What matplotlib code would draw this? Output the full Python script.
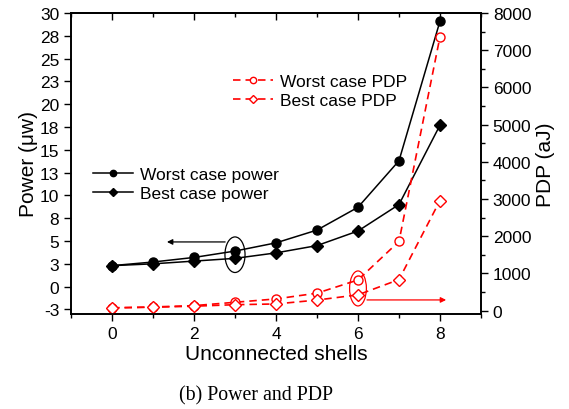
import matplotlib
matplotlib.use("Agg")
import matplotlib.pyplot as plt
from matplotlib.patches import Ellipse
from matplotlib.ticker import MultipleLocator

plt.rcParams['font.family'] = ['Liberation Sans', 'DejaVu Sans']

shells = [0, 1, 2, 3, 4, 5, 6, 7, 8]
worst_power = [2.3, 2.7, 3.2, 3.9, 4.8, 6.2, 8.7, 13.8, 29.1]
best_power = [2.3, 2.5, 2.8, 3.1, 3.7, 4.5, 6.1, 9.0, 17.7]
worst_pdp = [75, 100, 135, 225, 315, 470, 825, 1860, 7360]
best_pdp = [75, 92, 120, 160, 180, 285, 425, 835, 2960]

left_ticks = [-2.5, 0, 2.5, 5, 7.5, 10, 12.5, 15, 17.5, 20, 22.5, 25, 27.5, 30]
left_labels = ['-3', '0', '3', '5', '8', '10', '13', '15', '18', '20', '23', '25', '28', '30']
right_ticks = [0, 1000, 2000, 3000, 4000, 5000, 6000, 7000, 8000]
x_ticks = [0, 2, 4, 6, 8]

red = '#ff0000'

fig = plt.figure(figsize=(5.69, 4.10), dpi=100)
ax1 = fig.add_axes([0.1248, 0.2317, 0.7205, 0.7342])
ax2 = ax1.twinx()

l1, = ax1.plot(shells, worst_power, '-o', color='black', lw=1.1, ms=6.5, label='Worst case power')
l2, = ax1.plot(shells, best_power, '-D', color='black', lw=1.1, ms=6, label='Best case power')

l3, = ax2.plot(shells, worst_pdp, '--o', color=red, lw=1.2, ms=6.5, mfc='white', mew=1.0,
               dashes=(4.5, 3), label='Worst case PDP')
l4, = ax2.plot(shells, best_pdp, '--D', color=red, lw=1.2, ms=6, mfc='white', mew=1.0,
               dashes=(4.5, 3), label='Best case PDP')

ax1.set_xlim(-1, 9)
ax1.set_ylim(-3, 30)
ax2.set_ylim(-90, 8000)

ax1.set_xticks(x_ticks)
ax1.xaxis.set_minor_locator(MultipleLocator(1))
ax1.set_yticks(left_ticks)
ax1.set_yticklabels(left_labels)
ax2.set_yticks(right_ticks)
ax2.yaxis.set_minor_locator(MultipleLocator(500))

ax1.tick_params(axis='x', which='both', direction='out', top=False, labelsize=12.5)
ax1.tick_params(axis='x', which='major', length=5, width=1)
ax1.tick_params(axis='x', which='minor', length=3, width=1)
ax1.tick_params(axis='y', which='major', direction='out', length=5, width=1, labelsize=12.5)
ax2.tick_params(axis='y', which='major', direction='out', length=5, width=1, labelsize=12.5)
ax2.tick_params(axis='y', which='minor', direction='out', length=3, width=1)

# top axis: ticks pointing inward, no labels
top = ax1.secondary_xaxis('top')
top.set_xticks(x_ticks)
top.xaxis.set_minor_locator(MultipleLocator(1))
top.tick_params(axis='x', which='both', direction='in', labeltop=False, width=1)
top.tick_params(axis='x', which='major', length=5)
top.tick_params(axis='x', which='minor', length=3)

for ax in (ax1, ax2, top):
    for s in ax.spines.values():
        s.set_linewidth(1.2)

ax1.set_xlabel('Unconnected shells', fontsize=15, labelpad=2)
ax1.set_ylabel('Power (\u03bcw)', fontsize=15, labelpad=1)
ax2.set_ylabel('PDP (aJ)', fontsize=15, labelpad=3)

# annotations: ellipse + arrow for each axis group
ax1.add_patch(Ellipse((3, 3.5), 0.49, 3.9, fill=False, edgecolor='black', lw=0.9))
ax1.annotate('', xy=(1.34, 4.9), xytext=(2.76, 4.9),
             arrowprops=dict(arrowstyle='-|>', color='black', lw=0.9, mutation_scale=8,
                             shrinkA=0, shrinkB=0))
ax2.add_patch(Ellipse((6, 597), 0.41, 940, fill=False, edgecolor=red, lw=0.9))
ax2.annotate('', xy=(8.15, 288), xytext=(6.22, 288),
             arrowprops=dict(arrowstyle='-|>', color=red, lw=0.9, mutation_scale=8,
                             shrinkA=0, shrinkB=0))

leg1 = ax2.legend(handles=[l1, l2], loc='upper left', bbox_to_anchor=(0.163, 0.590),
                  bbox_transform=fig.transFigure, frameon=False, fontsize=12.5,
                  borderpad=0, borderaxespad=0, handlelength=2.3, handletextpad=0.4,
                  labelspacing=0.2, markerscale=0.7)
ax2.add_artist(leg1)
ax2.legend(handles=[l3, l4], loc='upper left', bbox_to_anchor=(0.4095, 0.817),
           bbox_transform=fig.transFigure, frameon=False, fontsize=12.5,
           borderpad=0, borderaxespad=0, handlelength=2.3, handletextpad=0.4,
           labelspacing=0.2, markerscale=0.7)

fig.text(0.45, 0.035, '(b) Power and PDP', ha='center', va='center', fontsize=14.3,
         family=['Liberation Serif', 'DejaVu Serif'])

plt.savefig('out.png', dpi=100)
